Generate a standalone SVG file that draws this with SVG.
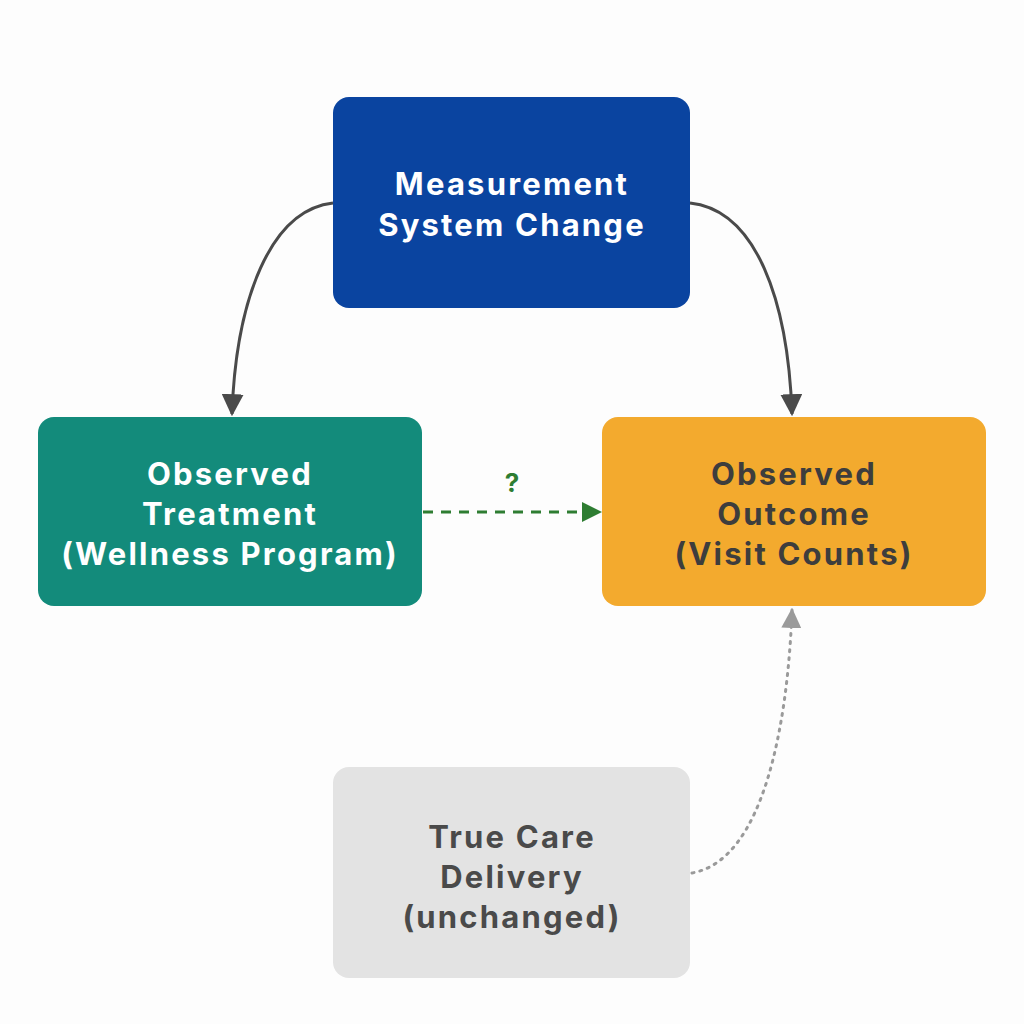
<svg xmlns="http://www.w3.org/2000/svg" width="1024" height="1024" viewBox="0 0 1024 1024">
<style>
text{font-family:"Inter","Open Sans","Liberation Sans",sans-serif;font-weight:700;font-size:31px;letter-spacing:2.2px;text-anchor:middle}
.w{fill:#fff}.d{fill:#3d3d3d}.g{fill:#4a4a4a}
</style>
<defs>
<marker id="ag" viewBox="0 0 10 10" refX="9" refY="5" markerWidth="20" markerHeight="20" markerUnits="userSpaceOnUse" orient="auto"><path d="M0,0L10,5L0,10z" fill="#2e7d32"/></marker>
<marker id="ay" viewBox="0 0 10 10" refX="9" refY="5" markerWidth="20" markerHeight="20" markerUnits="userSpaceOnUse" orient="auto"><path d="M0,0L10,5L0,10z" fill="#9a9a9a"/></marker>
<marker id="ak" viewBox="0 0 10 10" refX="9" refY="5" markerWidth="22" markerHeight="22" markerUnits="userSpaceOnUse" orient="auto"><path d="M0,0L10,5L0,10z" fill="#4a4a4a"/></marker>
</defs>
<rect width="1024" height="1024" fill="#fdfdfd"/>
<g id="connectors" fill="none">
<path d="M333,203 C270,210 236,300 232,414" stroke="#4a4a4a" stroke-width="3" marker-end="url(#ak)"/>
<path d="M690,203 C756,210 788,300 792,414" stroke="#4a4a4a" stroke-width="3" marker-end="url(#ak)"/>
<path d="M423,512 L600,512" stroke="#2e7d32" stroke-width="3" stroke-dasharray="10,8" marker-end="url(#ag)"/>
<path d="M692,873 C765,860 788,720 792,610" stroke="#9a9a9a" stroke-width="3" stroke-dasharray="2,6" stroke-linecap="round" marker-end="url(#ay)"/>
<text x="512" y="492" style="fill:#2e7d32;font-size:26px;letter-spacing:0">?</text>
</g>
<g id="measurement"><rect x="333" y="97" width="357" height="211" rx="16" fill="#0a44a0"/>
<text class="w" x="512" y="195">Measurement</text><text class="w" x="512" y="236">System Change</text></g>
<g id="treatment"><rect x="38" y="417" width="384" height="189" rx="16" fill="#138b7b"/>
<text class="w" x="230" y="485">Observed</text><text class="w" x="230" y="525">Treatment</text><text class="w" x="230" y="565">(Wellness Program)</text></g>
<g id="outcome"><rect x="602" y="417" width="384" height="189" rx="16" fill="#f3aa2e"/>
<text class="d" x="794" y="485">Observed</text><text class="d" x="794" y="525">Outcome</text><text class="d" x="794" y="565">(Visit Counts)</text></g>
<g id="care"><rect x="333" y="767" width="357" height="211" rx="16" fill="#e3e3e3"/>
<text class="g" x="512" y="848">True Care</text><text class="g" x="512" y="888">Delivery</text><text class="g" x="512" y="928">(unchanged)</text></g>
</svg>
